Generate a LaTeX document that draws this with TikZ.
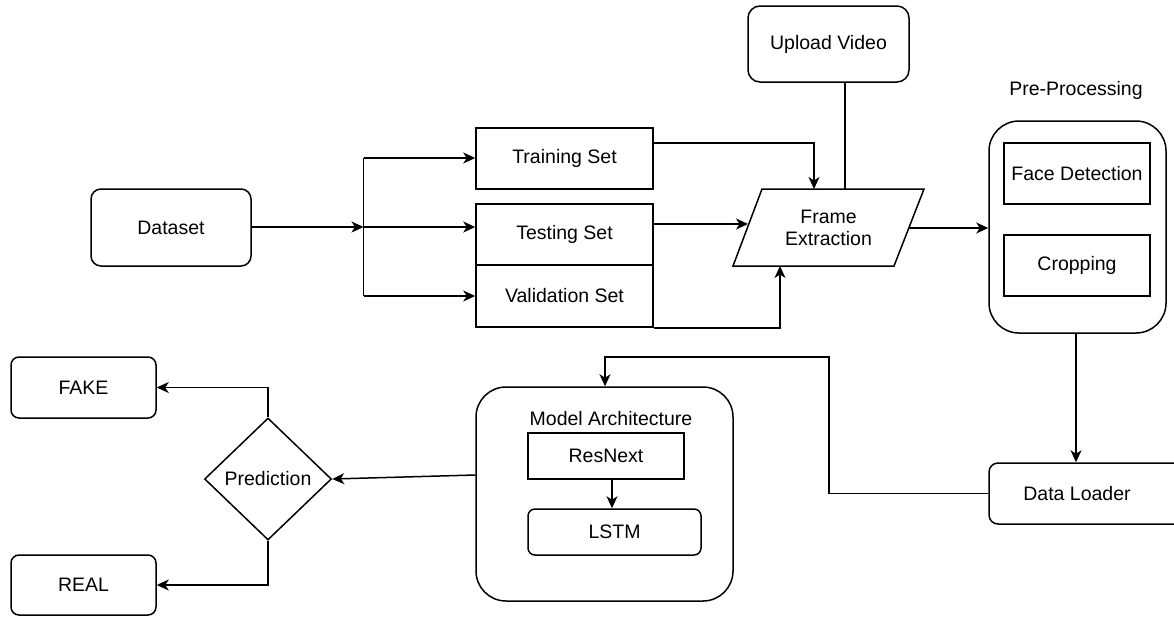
\documentclass[tikz,border=0pt]{standalone}
\usepackage{fontspec}
\setmainfont{Liberation Sans}
\usetikzlibrary{arrows.meta,shapes.geometric,calc}
\begin{document}
\begin{tikzpicture}[x=1pt,y=-1pt,
  every node/.style={font=\fontsize{19.5}{22}\selectfont, inner sep=0pt},
  rbox/.style={draw, line width=1.5pt, rounded corners=10pt},
  sbox/.style={draw, line width=1.5pt},
  cont/.style={draw, line width=1.5pt, rounded corners=30pt},
  conn/.style={line width=1.5pt},
  arr/.style={line width=1.5pt, -{Stealth[length=12pt,width=11pt,inset=3.5pt]}}
]
\clip (0,0) rectangle (1174,616);
\fill[white] (0,0) rectangle (1174,616);

% left column
\node[rbox, minimum width=160pt, minimum height=77pt] (ds) at (171,227.5) {Dataset};
\coordinate (split) at (363.5,227);
\coordinate (splitTop) at (363.5,158);
\coordinate (splitBot) at (363.5,296);

\node[sbox, minimum width=177pt, minimum height=61pt] (tr) at (564.5,158.5) {Training Set};
\node[sbox, minimum width=177pt, minimum height=61pt] (te) at (564.5,234.5) {Testing Set};
\node[sbox, minimum width=177pt, minimum height=62pt] (va) at (564.5,296) {Validation Set};

% frame extraction
\node[minimum width=160pt, minimum height=77pt, align=center] (fe) at (828.5,228) {Frame\\Extraction};
\draw[line width=1.5pt, line join=miter] (762,189) -- (924,189) -- (894,266) -- (733,266) -- cycle;
\coordinate (feTr) at (814,189);
\coordinate (feTe) at (748,224);
\coordinate (feVa) at (780,266);
\coordinate (feUp) at (845,189);
\coordinate (feOut) at (909,228);

\node[rbox, rounded corners=12pt, minimum width=161pt, minimum height=76pt] (up) at (828.5,44) {Upload Video};

% pre-processing
\node[cont, minimum width=177pt, minimum height=212pt] (pre) at (1077.5,227) {};
\node (prelabel) at (1076,90) {Pre-Processing};
\node[sbox, minimum width=146pt, minimum height=61pt] (fd) at (1077,173.5) {Face Detection};
\node[sbox, minimum width=146pt, minimum height=61pt] (cr) at (1077,265.5) {Cropping};

% data loader
\node[rbox, rounded corners=9pt, minimum width=211pt, minimum height=61pt] (dl) at (1094.5,493.5) {};
\node (dltext) at (1077,493.5) {Data Loader};

% model architecture
\node[cont, minimum width=257pt, minimum height=214pt] (ma) at (604.5,494) {};
\node (malabel) at (611,419) {Model Architecture};
\node[sbox, minimum width=156pt, minimum height=46pt] (rn) at (606,456) {ResNext};
\node[rbox, rounded corners=7pt, minimum width=173pt, minimum height=46pt] (ls) at (614.5,532) {LSTM};

% prediction
\node[diamond, draw, line width=1.5pt, minimum width=127pt, minimum height=122pt] (pr) at (268,479) {Prediction};
\node[rbox, rounded corners=8pt, minimum width=145pt, minimum height=61pt] (fk) at (83.5,387.5) {FAKE};
\node[rbox, rounded corners=8pt, minimum width=145pt, minimum height=60pt] (rl) at (83.5,585) {REAL};

% connectors
\draw[arr] (ds.east |- split) -- (split);
\draw[conn] (splitTop) -- (splitBot);
\draw[arr] (splitTop) -- (tr.west |- splitTop);
\draw[arr] (split) -- (te.west |- split);
\draw[arr] (splitBot) -- (va.west |- splitBot);

\draw[arr] (tr.east |- 0,143) -| (feTr);
\draw[arr] (te.east |- feTe) -- (feTe);
\draw[arr] (va.south east) -| (feVa);
\draw[conn] (up.south -| feUp) -- (feUp);
\draw[arr] (feOut) -- (pre.west |- feOut);

\draw[arr] (pre.south -| 1076,0) -- (dl.north -| 1076,0);
\draw[arr] (dl.west) -- (829,493.5) -- (829,357) -- (605,357) -- (ma.north -| 605,0);
\draw[arr] (ma.west |- 0,475) -- (pr.east);
\draw[arr] (rn.south -| 612,0) -- (ls.north -| 612,0);
\draw[arr] (pr.north) |- (fk.east);
\draw[arr] (pr.south) |- (rl.east);
\end{tikzpicture}
\end{document}
